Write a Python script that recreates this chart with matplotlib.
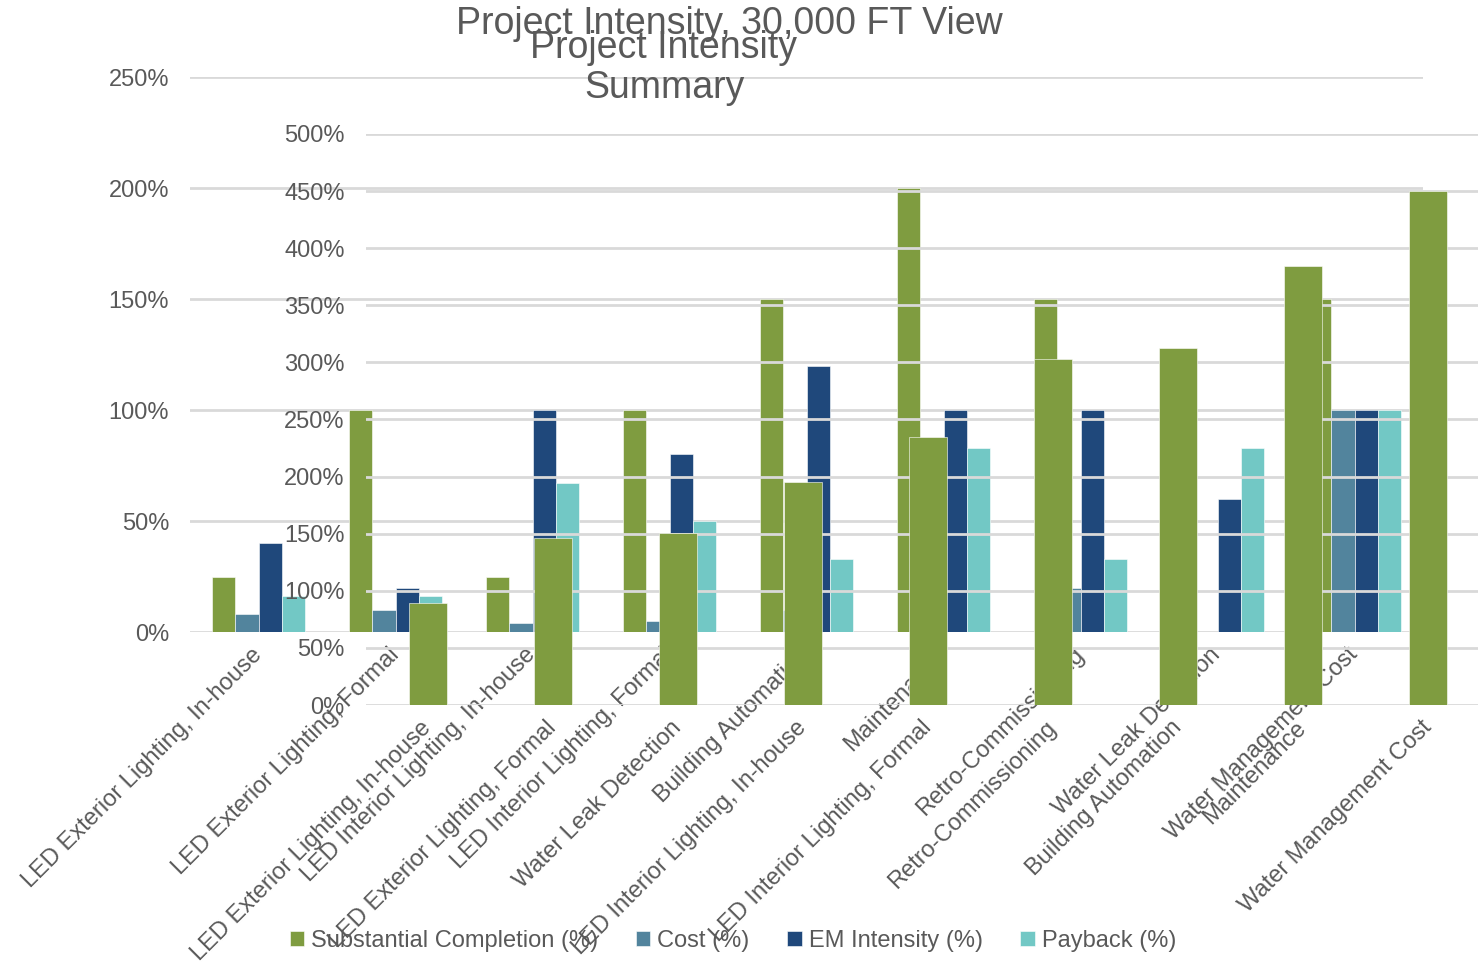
#!/usr/bin/env python3
"""
Project intensity overview
==========================

Two Excel-style column charts stacked on top of each other:
the 30,000 FT view (four measures per project) and the summary
(total intensity per project, sorted ascending).
"""

import numpy as np
import matplotlib
matplotlib.use("Agg")
import matplotlib.pyplot as plt


# ---------------------------
# Data
# ---------------------------
projects = [
    "LED Exterior Lighting, In-house",
    "LED Exterior Lighting, Formal",
    "LED Interior Lighting, In-house",
    "LED Interior Lighting, Formal",
    "Building Automation",
    "Maintenance",
    "Retro-Commissioning",
    "Water Leak Detection",
    "Water Management Cost",
]

# values in percent
substantial_completion = [25, 100, 25, 100, 150, 200, 150, 8, 150]
cost = [8, 10, 4, 5, 10, 1, 20, 0, 100]
em_intensity = [40, 20, 100, 80, 120, 100, 100, 60, 100]
payback = [16, 16, 67, 50, 33, 83, 33, 83, 100]

series_names = ["Substantial Completion (%)", "Cost (%)", "EM Intensity (%)", "Payback (%)"]

summary_projects = [
    "LED Exterior Lighting, In-house",
    "LED Exterior Lighting, Formal",
    "Water Leak Detection",
    "LED Interior Lighting, In-house",
    "LED Interior Lighting, Formal",
    "Retro-Commissioning",
    "Building Automation",
    "Maintenance",
    "Water Management Cost",
]
summary_values = [89, 146, 151, 195, 235, 303, 313, 384, 450]

view_ticks = [0, 50, 100, 150, 200, 250]
summary_ticks = [0, 50, 100, 150, 200, 250, 300, 350, 400, 450, 500]

# ---------------------------
# Style
# ---------------------------
GREEN = "#7F9C40"
STEEL = "#52849D"
NAVY = "#1F487B"
TEAL = "#72C8C5"
TEXT = "#595959"
GRID = "#D9D9D9"

plt.rcParams["font.family"] = ["Liberation Sans", "DejaVu Sans"]
plt.rcParams["text.color"] = TEXT

W, H = 1478, 972


def px_axes(fig, left, right, top, bottom):
    """Add axes given pixel edges of the plot area (origin at top-left)."""
    return fig.add_axes([left / W, 1 - bottom / H, (right - left) / W, (bottom - top) / H])


def style_axes(ax, ticks, labels):
    ax.set_facecolor("none")
    for s in ax.spines.values():
        s.set_visible(False)
    ax.set_yticks(ticks)
    ax.set_yticklabels([f"{t}%" for t in ticks])
    ax.set_ylim(ticks[0], ticks[-1])
    ax.yaxis.grid(True, color=GRID, linewidth=2)
    ax.set_axisbelow(True)
    ax.tick_params(axis="y", length=0, pad=15, labelsize=17, labelcolor=TEXT)
    ax.tick_params(axis="x", length=0, pad=14, labelsize=17, labelcolor=TEXT)
    ax.set_xticks(np.arange(len(labels)))
    ax.set_xticklabels(labels, rotation=45, ha="right", va="center",
                       rotation_mode="anchor")
    ax.set_xlim(-0.5, len(labels) - 0.5)


def main():
    fig = plt.figure(figsize=(W / 100, H / 100), dpi=100)

    # ---------------------------
    # Back chart: 30,000 FT view
    # ---------------------------
    ax1 = px_axes(fig, 190, 1423, 77, 632)
    x = np.arange(len(projects))
    bw = 0.1715
    data = [substantial_completion, cost, em_intensity, payback]
    colors = [GREEN, STEEL, NAVY, TEAL]
    for i, (vals, col, name) in enumerate(zip(data, colors, series_names)):
        ax1.bar(x + (i - 1.5) * bw, vals, width=bw, color=col, label=name,
                edgecolor="white", linewidth=0.4)
    style_axes(ax1, view_ticks, projects)

    # ---------------------------
    # Front chart: summary
    # ---------------------------
    ax2 = px_axes(fig, 365.5, 1490.5, 134, 705)
    xs = np.arange(len(summary_projects))
    ax2.bar(xs, summary_values, width=0.304, color=GREEN,
            edgecolor="white", linewidth=0.4)
    style_axes(ax2, summary_ticks, summary_projects)

    # titles (they overlap in the original too)
    fig.text(729 / W, 1 - 24 / H, "Project Intensity, 30,000 FT View",
             ha="center", va="center", fontsize=27, color=TEXT)
    fig.text(664 / W, 1 - 68 / H, "Project Intensity\nSummary",
             ha="center", va="center", fontsize=27, color=TEXT, linespacing=1.15)

    # legend for the four measures
    handles, labels = ax1.get_legend_handles_labels()
    fig.legend(handles, labels, loc="center", bbox_to_anchor=(733 / W, 1 - 941 / H),
               ncol=4, frameon=False, fontsize=17, handlelength=0.6, handleheight=0.6,
               handletextpad=0.3, columnspacing=1.6, labelcolor=TEXT)

    fig.savefig("out.png", dpi=100)
    plt.close(fig)


if __name__ == "__main__":
    main()
